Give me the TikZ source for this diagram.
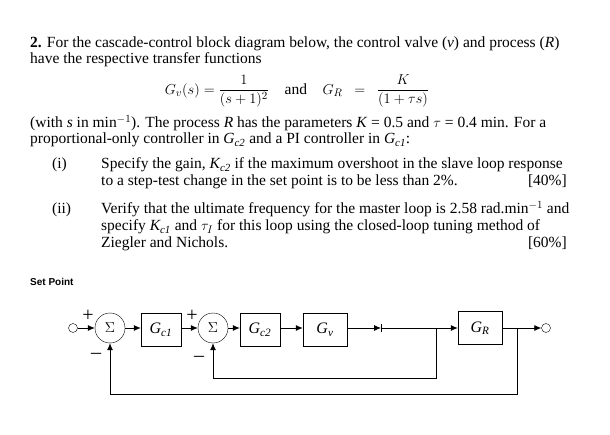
\documentclass[tikz,border=0pt]{standalone}
\usepackage{amsmath}
\usepackage{fontspec}
\setmainfont{Liberation Serif}
\newfontfamily\hdr{Liberation Sans}
\usetikzlibrary{arrows.meta}
\begin{document}
\begin{tikzpicture}[x=1pt,y=-1pt,
  txt/.style={anchor=base west,inner sep=0,font=\fontsize{15.5}{17}\selectfont},
  rtxt/.style={anchor=base east,inner sep=0,font=\fontsize{15.5}{17}\selectfont},
  blk/.style={draw,minimum width=40,minimum height=33,inner sep=0,font=\fontsize{16}{18}\selectfont\itshape},
  sumn/.style={draw,circle,minimum size=30,inner sep=0,font=\fontsize{14}{16}\selectfont},
  term/.style={draw,circle,minimum size=9,inner sep=0},
  sig/.style={draw,-{Latex[length=7pt,width=6pt]},line width=0.8pt},
  ln/.style={draw,line width=0.8pt},
  pm/.style={font=\fontsize{20}{20}\selectfont,inner sep=0}]
\useasboundingbox (0,0) rectangle (610,435);
\node[txt] (l1) at (30,48) {\textbf{2.} For the cascade-control block diagram below, the control valve (\textit{v}) and process (\textit{R})};
\node[txt] (l2) at (30,64) {have the respective transfer functions};
\node[anchor=center,inner sep=0,font=\fontsize{15.5}{17}\selectfont] (eq) at (297,91)
 {$G_v(s)=\dfrac{1}{(s+1)^2}$\quad and\quad $G_R\ \ =\ \ \dfrac{K}{(1+\tau s)}$};
\node[txt] (l3) at (30,128) {(with \textit{s} in min$^{-1}$). The process \textit{R} has the parameters \textit{K} = 0.5 and $\tau$ = 0.4 min. For a};
\node[txt] (l4) at (30,144) {proportional-only controller in \textit{G\textsubscript{c2}} and a PI controller in \textit{G\textsubscript{c1}}:};
\node[txt] (i1) at (52,169) {(i)};
\node[txt] (i2) at (101,169) {Specify the gain, \textit{K\textsubscript{c2}} if the maximum overshoot in the slave loop response};
\node[txt] (i3) at (101,186) {to a step-test change in the set point is to be less than 2\%.};
\node[rtxt] (i4) at (567,186) {[40\%]};
\node[txt] (j1) at (52,214) {(ii)};
\node[txt] (j2) at (101,214) {Verify that the ultimate frequency for the master loop is 2.58 rad.min$^{-1}$ and};
\node[txt] (j3) at (101,231) {specify \textit{K\textsubscript{c1}} and \textit{$\tau_I$} for this loop using the closed-loop tuning method of};
\node[txt] (j4) at (101,248) {Ziegler and Nichols.};
\node[rtxt] (j5) at (567,248) {[60\%]};
\node[anchor=base west,inner sep=0,font=\hdr\bfseries\fontsize{10}{12}\selectfont] (sp) at (30,286) {Set Point};

\node[term] (in) at (73,328) {};
\node[sumn] (s1) at (110,328) {$\Sigma$};
\node[blk] (gc1) at (161,330) {G\textsubscript{c1}};
\node[sumn] (s2) at (213,328) {$\Sigma$};
\node[blk] (gc2) at (260,330) {G\textsubscript{c2}};
\node[blk,minimum width=44] (gv) at (325,330) {G\textsubscript{v}};
\node[blk,minimum width=44] (gr) at (480,328) {G\textsubscript{R}};
\node[term] (out) at (546,328) {};
\coordinate (t) at (381,328);
\coordinate (b1) at (436,328);
\coordinate (b2) at (517,328);
\coordinate (f1) at (436,378);
\coordinate (f2) at (517,394);
\path[sig] (in) -- (s1);
\path[sig] (s1) -- (gc1.west |- s1);
\path[sig] (gc1.east |- s2) -- (s2);
\path[sig] (s2) -- (gc2.west |- s2);
\path[sig] (gc2.east |- s2) -- (gv.west |- s2);
\path[sig] (gv.east |- s2) -- (t);
\path[ln] ([yshift=-4pt]t) -- ([yshift=4pt]t);
\path[sig] (t) -- (gr);
\path[sig] (gr) -- (out);
\path[sig] (b1) -- (f1) -| (s2);
\path[sig] (b2) -- (f2) -| (s1);
\node[pm] (p1) at (88,316) {+};
\node[pm] (p2) at (192,316) {+};
\node[pm] (m1) at (96,356) {--};
\node[pm] (m2) at (199,359) {--};
\end{tikzpicture}
\end{document}
